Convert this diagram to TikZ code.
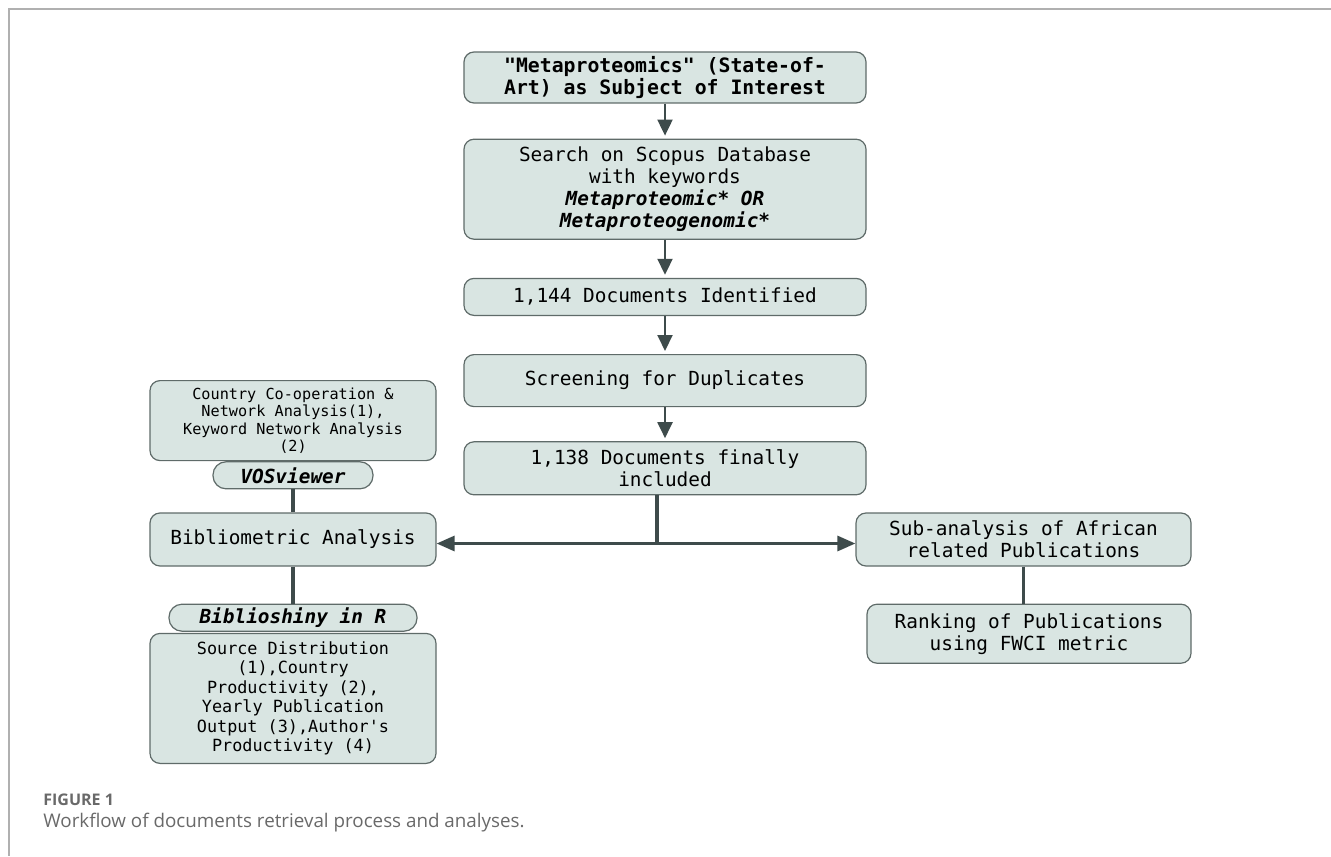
\documentclass[tikz,border=0pt]{standalone}
\usepackage{fontspec}
\setmonofont{DejaVu Sans Mono}
\newfontfamily\capfnt{Open Sans}
\usepackage{tikz}
\usetikzlibrary{arrows.meta,positioning}
\definecolor{cfill}{RGB}{217,229,226}
\definecolor{cedge}{RGB}{95,107,105}
\definecolor{cline}{RGB}{62,75,75}
\definecolor{cframe}{RGB}{176,176,176}
\definecolor{ccap}{RGB}{105,105,105}

\begin{document}
\begin{tikzpicture}[
  x=0.5pt, y=-0.5pt,
  font=\ttfamily\fontsize{9.7}{11}\selectfont,
  box/.style={draw=cedge, fill=cfill, rounded corners=5pt, align=center, inner sep=2pt, line width=0.6pt},
  mainbox/.style={box, minimum width=201pt},
  leftbox/.style={box, minimum width=143pt},
  pill/.style={box, rounded corners=6.5pt, minimum height=13.5pt, inner sep=1pt,
               font=\ttfamily\fontsize{9.7}{11}\selectfont\bfseries\itshape},
  ar/.style={-{Triangle[length=8pt,width=7.5pt]}, cline, line width=1pt, shorten >=1.5pt},
  arh/.style={-{Triangle[length=9pt,width=7.5pt]}, cline, line width=1.5pt},
  link/.style={cline, line width=1.6pt},
]
\useasboundingbox (0,0) rectangle (1331,856);
\draw[cframe, line width=1pt] (1331,9) -- (9,9) -- (9,856);

% --- main column ---
\node[mainbox, minimum height=25.5pt, font=\ttfamily\fontsize{9.9}{11}\selectfont\bfseries] (subj) at (665,77.5)
  {"Metaproteomics" (State-of-\\Art) as Subject of Interest};
\node[mainbox, below=17.5pt of subj, minimum height=50pt] (search)
  {Search on Scopus Database\\with keywords\\\textbf{\textit{Metaproteomic* OR}}\\\textbf{\textit{Metaproteogenomic*}}};
\node[mainbox, below=19pt of search, minimum height=18.5pt] (ident) {1,144 Documents Identified};
\node[mainbox, below=19pt of ident, minimum height=26pt] (screen) {Screening for Duplicates};
\node[mainbox, below=17pt of screen, minimum height=26.5pt] (incl) {1,138 Documents finally\\included};
\draw[ar] (subj) -- (search);
\draw[ar] (search) -- (ident);
\draw[ar] (ident) -- (screen);
\draw[ar] (screen) -- (incl);

% --- left branch ---
\node[leftbox, minimum height=26.5pt] (biblio) at (293,539.5) {Bibliometric Analysis};
\node[pill, minimum width=80pt, above=11.5pt of biblio] (vos) {VOSviewer};
\node[leftbox, above=0pt of vos, minimum height=40pt, font=\ttfamily\fontsize{7.6}{8.75}\selectfont] (netw)
  {Country Co-operation \&\\Network Analysis(1),\\Keyword Network Analysis\\(2)};
\node[pill, minimum width=124pt, below=18.5pt of biblio] (bshiny) {Biblioshiny in R};
\node[leftbox, below=0.5pt of bshiny, minimum height=65pt, font=\ttfamily\fontsize{8.4}{9.7}\selectfont] (prod)
  {Source Distribution\\(1),Country\\Productivity (2),\\Yearly Publication\\Output (3),Author's\\Productivity (4)};
\draw[link] (vos) -- (biblio);
\draw[link] (biblio) -- (bshiny);

% --- right branch ---
\node[box, minimum width=167.5pt, minimum height=26.5pt] (africa) at (1023.5,539.5)
  {Sub-analysis of African\\related Publications};
\node[box, minimum width=162pt, minimum height=29.5pt, below=18.5pt of africa, xshift=2.75pt] (rank)
  {Ranking of Publications\\using FWCI metric};
\draw[link] (africa.south) -- (africa.south |- rank.north);

% --- split ---
\coordinate (split) at (657,543.5);
\draw[link] (incl.south -| split) -- (split);
\draw[arh] (split) -- (biblio.east |- split);
\draw[arh] (split) -- (africa.west |- split);

% --- caption ---
\node[anchor=west, inner sep=0pt, text=ccap, font=\capfnt\bfseries\fontsize{8}{9}\selectfont] (fignum) at (43,800) {FIGURE 1};
\node[anchor=west, inner sep=0pt, text=ccap, font=\capfnt\fontsize{9.4}{11}\selectfont] (figcap) at (43,823)
  {Workflow of documents retrieval process and analyses.};
\end{tikzpicture}
\end{document}
